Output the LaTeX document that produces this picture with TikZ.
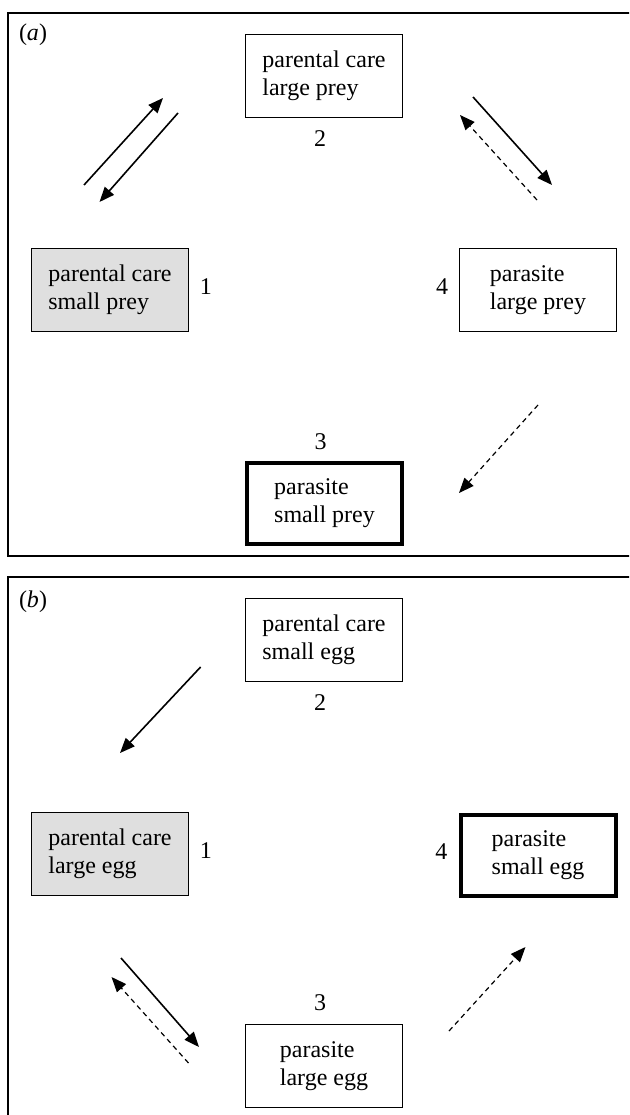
\documentclass[tikz,border=0pt]{standalone}
\usepackage{fontspec}
\setmainfont{Liberation Serif}
\usetikzlibrary{arrows.meta}
\tikzset{x=1pt,y=-1pt,
        line width=1.4pt,
        >={Triangle[length=15pt,width=12pt]},
        box/.style={draw,minimum width=157pt,minimum height=83pt,align=left,inner sep=0pt},
        carebox/.style={box,fill=gray!25},
        bestbox/.style={box,line width=4pt,minimum width=155pt,minimum height=81pt},
        fore/.style={->,line width=1.6pt},
        back/.style={->,line width=1.2pt,dash pattern=on 5pt off 4pt}
        }

\begin{document}
\begin{tikzpicture}[font=\fontsize{24}{28}\selectfont,
    label distance=11pt,every label/.style={inner sep=0pt}]
    % 页面大小, 两个外框都超出右边和下边
    \clip (0,0) rectangle (629,1115);
    \draw[line width=1.5pt] (8,13) rectangle (660,556);
    \draw[line width=1.5pt] (8,577) rectangle (660,1140);

    % (a) 四个方框
    \node at (33,35) {(\textit{a})};
    \node[box,label={[xshift=-4pt,label distance=13pt]below:2}] (a-2) at (324,76) {parental care\\large prey};
    \node[carebox,label={[yshift=3pt]right:1}] (a-1) at (110,290) {parental care\\small prey};
    \node[box,label={[yshift=3pt]left:4}] (a-4) at (538,290) {parasite\\large prey};
    \node[bestbox,label={[xshift=-4pt]above:3}] (a-3) at (324.5,503.5) {parasite\\small prey};
    % (a) 箭头的端点
    \coordinate (a-s12) at (84,185);   \coordinate (a-e12) at (163,98);
    \coordinate (a-s21) at (178,113);  \coordinate (a-e21) at (99.5,202);
    \coordinate (a-s24) at (473,97);   \coordinate (a-e24) at (552,185);
    \coordinate (a-s42) at (537,200);  \coordinate (a-e42) at (460,115);
    \coordinate (a-s43) at (538,405);  \coordinate (a-e43) at (459,493);
    \draw[fore] (a-s12) -- (a-e12);
    \draw[fore] (a-s21) -- (a-e21);
    \draw[fore] (a-s24) -- (a-e24);
    \draw[back] (a-s42) -- (a-e42);
    \draw[back] (a-s43) -- (a-e43);

    % (b) 四个方框
    \node at (33,602) {(\textit{b})};
    \node[box,label={[xshift=-4pt,label distance=13pt]below:2}] (b-2) at (324,639.5) {parental care\\small egg};
    \node[carebox,label={[yshift=3pt]right:1}] (b-1) at (110,854) {parental care\\large egg};
    \node[bestbox,label={[yshift=3pt]left:4}] (b-4) at (538,855) {parasite\\small egg};
    \node[box,label={[xshift=-4pt,label distance=13pt]above:3}] (b-3) at (324,1066) {parasite\\large egg};
    % (b) 箭头的端点
    \coordinate (b-s21) at (200.6,667);  \coordinate (b-e21) at (120,753);
    \coordinate (b-s13) at (121,958);    \coordinate (b-e13) at (199,1047);
    \coordinate (b-s31) at (188.5,1063); \coordinate (b-e31) at (111.5,977);
    \coordinate (b-s34) at (449,1031);   \coordinate (b-e34) at (525.5,947);
    \draw[fore] (b-s21) -- (b-e21);
    \draw[fore] (b-s13) -- (b-e13);
    \draw[back] (b-s31) -- (b-e31);
    \draw[back] (b-s34) -- (b-e34);
\end{tikzpicture}
\end{document}
